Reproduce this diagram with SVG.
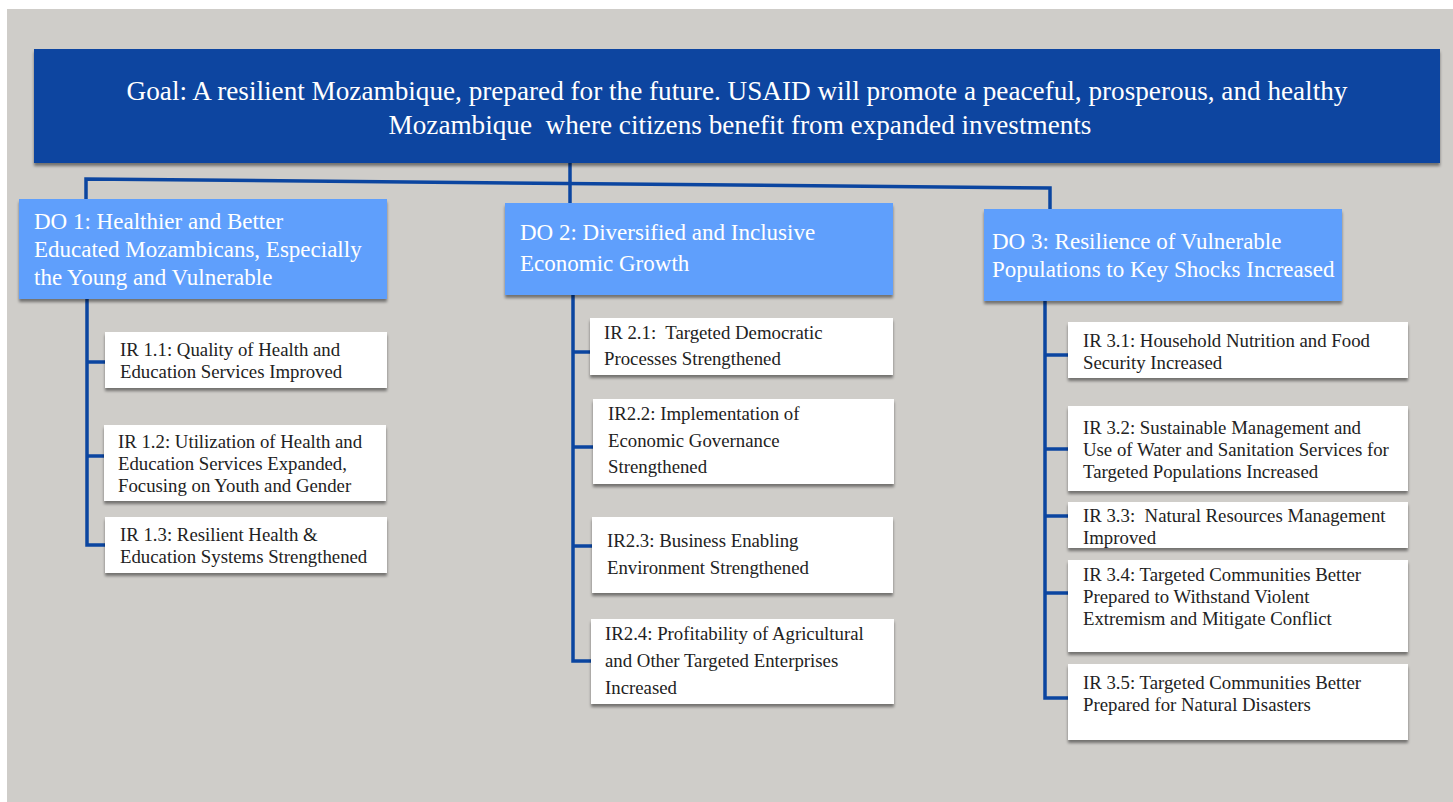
<svg xmlns="http://www.w3.org/2000/svg" width="1453" height="802" viewBox="0 0 1453 802">
<defs>
<filter id="sh" x="-5%" y="-10%" width="110%" height="130%">
<feGaussianBlur in="SourceAlpha" stdDeviation="1.5"/>
<feOffset dx="0" dy="3" result="b"/>
<feComponentTransfer><feFuncA type="linear" slope="0.45"/></feComponentTransfer>
<feMerge><feMergeNode/><feMergeNode in="SourceGraphic"/></feMerge>
</filter>
<style>
.goal{fill:#0b45a0}
.do{fill:#5e9ffc}
.ir{fill:#ffffff}
.gt{font-family:"Liberation Serif","Times New Roman",serif;font-size:27.2px;fill:#ffffff;text-anchor:middle}
.dt{font-family:"Liberation Serif","Times New Roman",serif;font-size:23px;fill:#ffffff}
.it{font-family:"Liberation Serif","Times New Roman",serif;font-size:18.8px;fill:#222222}
.cn{stroke:#0b45a0;stroke-width:3.5;fill:none;stroke-linejoin:miter}
</style>
</defs>
<rect x="0" y="0" width="1453" height="802" fill="#ffffff"/>
<rect x="7" y="9" width="1446" height="793" fill="#cfcdc9"/>

<g id="connectors">
<polyline class="cn" points="86,199 86,179 1050,188 1050,209"/>
<line class="cn" x1="570" y1="163" x2="570" y2="203"/>
<polyline class="cn" points="87,299 87,545 105,545"/>
<line class="cn" x1="87" y1="362" x2="105" y2="362"/>
<line class="cn" x1="87" y1="456" x2="104" y2="456"/>
<polyline class="cn" points="573,295 573,661 591,661"/>
<line class="cn" x1="573" y1="352" x2="590" y2="352"/>
<line class="cn" x1="573" y1="447" x2="593" y2="447"/>
<line class="cn" x1="573" y1="546" x2="592" y2="546"/>
<polyline class="cn" points="1045,301 1045,698 1068,698"/>
<line class="cn" x1="1045" y1="355" x2="1068" y2="355"/>
<line class="cn" x1="1045" y1="449" x2="1068" y2="449"/>
<line class="cn" x1="1045" y1="516" x2="1068" y2="516"/>
<line class="cn" x1="1045" y1="593" x2="1068" y2="593"/>
</g>

<g id="goal">
<rect class="goal" x="34" y="49" width="1406" height="114" filter="url(#sh)"/>
<text class="gt" x="737" y="100">Goal: A resilient Mozambique, prepared for the future. USAID will promote a peaceful, prosperous, and healthy</text>
<text class="gt" x="740" y="134" xml:space="preserve">Mozambique  where citizens benefit from expanded investments</text>
</g>

<g id="do1">
<rect class="do" x="19" y="199" width="368" height="100" filter="url(#sh)"/>
<text class="dt" x="34" y="229">DO 1: Healthier and Better</text>
<text class="dt" x="34" y="257">Educated Mozambicans, Especially</text>
<text class="dt" x="34" y="285">the Young and Vulnerable</text>
</g>
<g id="do2">
<rect class="do" x="505" y="203" width="388" height="92" filter="url(#sh)"/>
<text class="dt" x="520" y="240">DO 2: Diversified and Inclusive</text>
<text class="dt" x="520" y="271">Economic Growth</text>
</g>
<g id="do3">
<rect class="do" x="984" y="209" width="358" height="92" filter="url(#sh)"/>
<text class="dt" x="992" y="249">DO 3: Resilience of Vulnerable</text>
<text class="dt" x="992" y="277">Populations to Key Shocks Increased</text>
</g>

<g id="ir11">
<rect class="ir" x="105" y="332" width="282" height="56" filter="url(#sh)"/>
<text class="it" x="120" y="356">IR 1.1: Quality of Health and</text>
<text class="it" x="120" y="378">Education Services Improved</text>
</g>
<g id="ir12">
<rect class="ir" x="104" y="425" width="282" height="76" filter="url(#sh)"/>
<text class="it" x="118" y="448">IR 1.2: Utilization of Health and</text>
<text class="it" x="118" y="470">Education Services Expanded,</text>
<text class="it" x="118" y="492">Focusing on Youth and Gender</text>
</g>
<g id="ir13">
<rect class="ir" x="105" y="517" width="282" height="56" filter="url(#sh)"/>
<text class="it" x="120" y="541">IR 1.3: Resilient Health &amp;</text>
<text class="it" x="120" y="563">Education Systems Strengthened</text>
</g>

<g id="ir21">
<rect class="ir" x="590" y="318" width="303" height="57" filter="url(#sh)"/>
<text class="it" x="604" y="339" xml:space="preserve">IR 2.1:  Targeted Democratic</text>
<text class="it" x="604" y="365">Processes Strengthened</text>
</g>
<g id="ir22">
<rect class="ir" x="593" y="399" width="301" height="85" filter="url(#sh)"/>
<text class="it" x="608" y="420">IR2.2: Implementation of</text>
<text class="it" x="608" y="447">Economic Governance</text>
<text class="it" x="608" y="473">Strengthened</text>
</g>
<g id="ir23">
<rect class="ir" x="592" y="517" width="301" height="76" filter="url(#sh)"/>
<text class="it" x="607" y="547">IR2.3: Business Enabling</text>
<text class="it" x="607" y="574">Environment Strengthened</text>
</g>
<g id="ir24">
<rect class="ir" x="591" y="619" width="303" height="85" filter="url(#sh)"/>
<text class="it" x="605" y="640">IR2.4: Profitability of Agricultural</text>
<text class="it" x="605" y="667">and Other Targeted Enterprises</text>
<text class="it" x="605" y="694">Increased</text>
</g>

<g id="ir31">
<rect class="ir" x="1068" y="322" width="340" height="56" filter="url(#sh)"/>
<text class="it" x="1083" y="347">IR 3.1: Household Nutrition and Food</text>
<text class="it" x="1083" y="369">Security Increased</text>
</g>
<g id="ir32">
<rect class="ir" x="1068" y="406" width="340" height="85" filter="url(#sh)"/>
<text class="it" x="1083" y="434">IR 3.2: Sustainable Management and</text>
<text class="it" x="1083" y="456">Use of Water and Sanitation Services for</text>
<text class="it" x="1083" y="478">Targeted Populations Increased</text>
</g>
<g id="ir33">
<rect class="ir" x="1068" y="502" width="340" height="46" filter="url(#sh)"/>
<text class="it" x="1083" y="522" xml:space="preserve">IR 3.3:  Natural Resources Management</text>
<text class="it" x="1083" y="544">Improved</text>
</g>
<g id="ir34">
<rect class="ir" x="1068" y="560" width="340" height="92" filter="url(#sh)"/>
<text class="it" x="1083" y="581">IR 3.4: Targeted Communities Better</text>
<text class="it" x="1083" y="603">Prepared to Withstand Violent</text>
<text class="it" x="1083" y="625">Extremism and Mitigate Conflict</text>
</g>
<g id="ir35">
<rect class="ir" x="1068" y="664" width="340" height="76" filter="url(#sh)"/>
<text class="it" x="1083" y="689">IR 3.5: Targeted Communities Better</text>
<text class="it" x="1083" y="711">Prepared for Natural Disasters</text>
</g>
</svg>
